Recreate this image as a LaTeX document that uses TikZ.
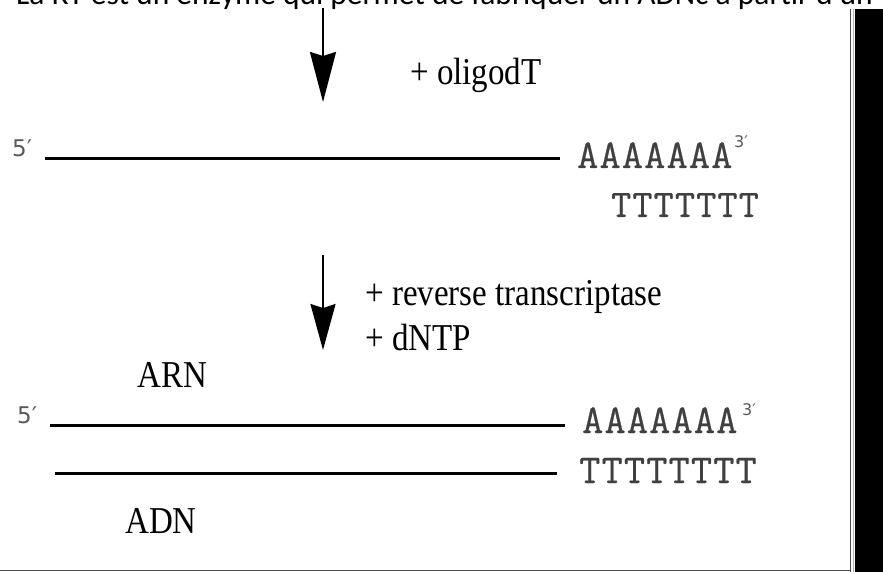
\documentclass[tikz,border=0pt]{standalone}
\usepackage{graphicx}
\usepackage{fontspec}
\setmainfont{Liberation Serif}
\setsansfont{DejaVu Sans}
\newfontfamily\topfont{Carlito}
\newfontfamily\seqfont[LetterSpace=3,FakeBold=0.5]{Latin Modern Mono}
\usetikzlibrary{arrows.meta}
\newcommand{\vstretch}[1]{\scalebox{1}[1.15]{#1}}
\begin{document}
\begin{tikzpicture}[x=1pt,y=-1pt,
  lbl/.style={inner sep=0pt, anchor=base west, font=\fontsize{33}{36}\selectfont},
  seq/.style={inner sep=0pt, anchor=base west, text=black!75, font=\seqfont\fontsize{41}{44}\selectfont},
  primelbl/.style={inner sep=0pt, anchor=base west, text=black!65, font=\sffamily\fontsize{23}{25}\selectfont},
  supplbl/.style={inner sep=0pt, anchor=base west, text=black!65, font=\sffamily\fontsize{16}{18}\selectfont},
  strand/.style={line width=3pt},
  down/.style={line width=2pt, -{Stealth[length=50pt,width=26pt,inset=4pt]}}]
\useasboundingbox (0,0) rectangle (883,572);
\clip (0,0) rectangle (883,572);
\fill[white] (0,0) rectangle (883,572);
% partially visible heading
\node[anchor=base west, inner sep=0pt, font=\topfont\fontsize{31.5}{33}\selectfont] (title) at (16,5) {La RT est un enzyme qui permet de fabriquer un ADNc à partir d'un};
% right frame
\fill[black] (855,9) rectangle (883,572);
\draw[gray!60, line width=1.5pt] (853.3,9) -- (853.3,572);
\draw[black!70, line width=1pt] (850.7,9) -- (850.7,572);
\draw[black!70, line width=1.2pt] (0,570.5) -- (851,570.5);
% arrow 1
\coordinate (a1s) at (323,8);
\coordinate (a1e) at (323,102);
\draw[down] (a1s) -- (a1e);
\node[lbl] (oligo) at (410,85) {\vstretch{+ oligodT}};
% step 1 strands
\node[primelbl] (p5a) at (12,157) {5′};
\coordinate (s1a) at (45,159);
\coordinate (s1b) at (560,159);
\draw[strand] (s1a) -- (s1b);
\node[seq] (polyA1) at (577,168) {AAAAAAA};
\node[supplbl] (p3a) at (734,148) {3′};
\node[seq, font=\seqfont\fontsize{39}{42}\selectfont] (polyT1) at (611,217) {TTTTTTT};
% arrow 2
\coordinate (a2s) at (323,255);
\coordinate (a2e) at (323,350);
\draw[line width=2pt, -{Stealth[length=46pt,width=25pt,inset=4pt]}] (a2s) -- (a2e);
\node[lbl] (rt) at (365,305) {\vstretch{+ reverse transcriptase}};
\node[lbl] (dntp) at (365,350) {\vstretch{+ dNTP}};
% step 2 strands
\node[lbl] (arn) at (137,387) {\vstretch{ARN}};
\node[primelbl] (p5b) at (17,423) {5′};
\coordinate (s2a) at (50,425);
\coordinate (s2b) at (565,425);
\draw[strand] (s2a) -- (s2b);
\node[seq] (polyA2) at (582,433) {AAAAAAA};
\node[supplbl] (p3b) at (742,415) {3′};
\coordinate (s3a) at (55,473);
\coordinate (s3b) at (557,473);
\draw[strand] (s3a) -- (s3b);
\node[seq] (polyT2) at (579,483) {TTTTTTTT};
\node[lbl] (adn) at (125,533) {\vstretch{ADN}};
\end{tikzpicture}
\end{document}
